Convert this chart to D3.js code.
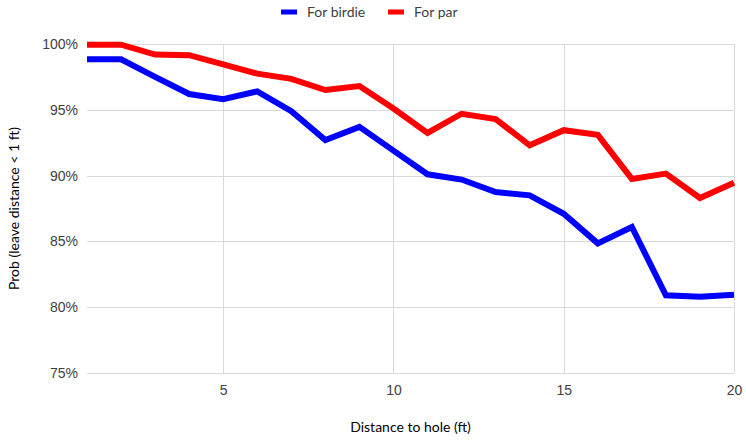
<!DOCTYPE html>
<html lang="en">
<head>
    <meta charset="UTF-8">
    <title>Prob (leave distance &lt; 1 ft)</title>
    <style>
        body { margin: 0; background: #fff; }
        svg { display: block; font-family: 'Lato', 'Liberation Sans', sans-serif; }
        .grid line { stroke: #d9d9d9; stroke-width: 1px; shape-rendering: crispEdges; }
        .tick text { fill: #404040; font-size: 14px; }
        .line { fill: none; stroke-width: 6px; stroke-linejoin: miter; }
    </style>
</head>
<body>
    <svg width="746" height="440"></svg>
    <script src="https://d3js.org/d3.v7.min.js"></script>
    <script>
        // Distance to hole (ft)
        const distances = [1, 2, 3, 4, 5, 6, 7, 8, 9, 10, 11, 12, 13, 14, 15, 16, 17, 18, 19, 20];
        // Probabilities in %
        const forBirdie = [98.84, 98.84, 97.5, 96.2, 95.8, 96.4, 94.9, 92.7, 93.7, 91.9,
                           90.1, 89.7, 88.75, 88.5, 87.1, 84.85, 86.1, 80.9, 80.8, 80.95];
        const forPar = [99.95, 99.95, 99.2, 99.15, 98.45, 97.75, 97.35, 96.5, 96.8, 95.1,
                        93.25, 94.7, 94.3, 92.3, 93.45, 93.1, 89.75, 90.15, 88.3, 89.45];
        const seriesNames = ["For birdie", "For par"];
        const seriesColors = ["#0000ff", "#ff0000"];
        const xTicks = [5, 10, 15, 20];
        const yTicks = [75, 80, 85, 90, 95, 100];

        const margin = {top: 44, right: 12, bottom: 67, left: 87},
            width = 746 - margin.left - margin.right,
            height = 440 - margin.top - margin.bottom;

        const svg = d3.select("svg")
            .append("g")
            .attr("transform", "translate(" + margin.left + "," + margin.top + ")");

        const x = d3.scaleLinear().domain([1, 20]).range([0, width]);
        const y = d3.scaleLinear().domain([75, 100]).range([height, 0]);

        // horizontal grid + y labels
        const yAxis = svg.append("g")
            .attr("class", "grid")
            .call(d3.axisLeft(y).tickValues(yTicks).tickSize(-width).tickPadding(9)
                .tickFormat(function(d) { return d + "%"; }));
        yAxis.select(".domain").remove();

        // vertical grid + x labels
        const xAxis = svg.append("g")
            .attr("class", "grid")
            .attr("transform", "translate(0," + height + ")")
            .call(d3.axisBottom(x).tickValues(xTicks).tickSize(-height).tickPadding(12));
        xAxis.select(".domain").remove();

        // lines
        const series = [forBirdie, forPar];
        series.forEach(function(vals, i) {
            const line = d3.line()
                .x(function(d, j) { return x(distances[j]); })
                .y(function(d) { return y(d); });
            svg.append("path")
                .datum(vals)
                .attr("class", "line")
                .style("stroke", seriesColors[i])
                .attr("d", line);
        });

        // axis titles
        svg.append("text")
            .attr("x", width / 2)
            .attr("y", height + 59)
            .attr("text-anchor", "middle")
            .style("font-size", "14px")
            .style("fill", "#000")
            .text("Distance to hole (ft)");

        svg.append("text")
            .attr("transform", "translate(" + (-68) + "," + (height / 2) + ") rotate(-90)")
            .attr("text-anchor", "middle")
            .style("font-size", "14px")
            .style("fill", "#000")
            .text("Prob (leave distance < 1 ft)");

        // legend
        const legendX = [281, 388];
        const legend = d3.select("svg").selectAll(".legend")
            .data(seriesNames)
            .enter().append("g")
            .attr("class", "legend")
            .attr("transform", function(d, i) { return "translate(" + legendX[i] + ",12)"; });

        legend.append("rect")
            .attr("x", 0)
            .attr("y", -2.5)
            .attr("width", 16)
            .attr("height", 5)
            .style("fill", function(d, i) { return seriesColors[i]; });

        legend.append("text")
            .attr("x", 26)
            .attr("y", 0)
            .attr("dy", ".35em")
            .style("font-size", "14px")
            .style("fill", "#404040")
            .text(function(d) { return d; });
    </script>
</body>
</html>
